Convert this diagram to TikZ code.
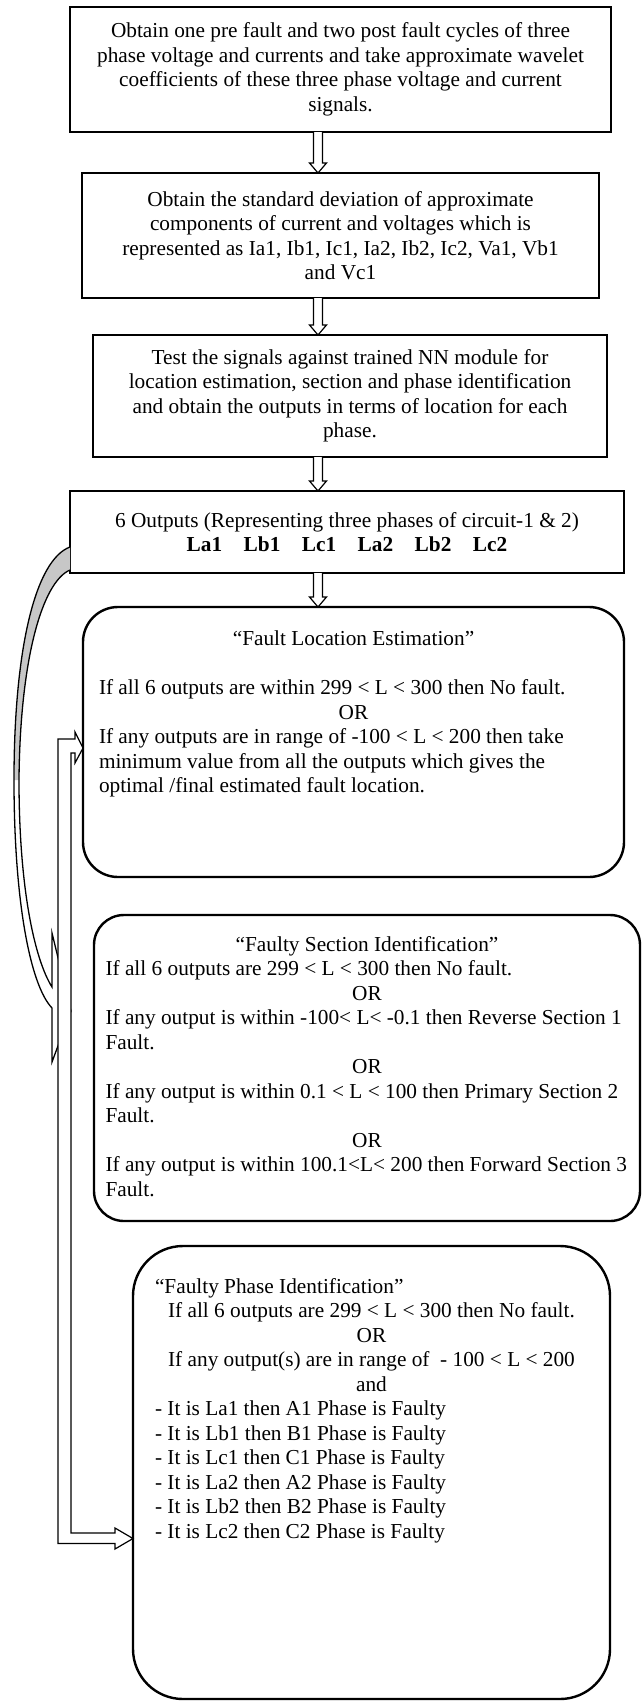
\documentclass[tikz,border=0pt]{standalone}
\usepackage{fontspec}
\setmainfont{Liberation Serif}
\usepackage{tikz}
\usetikzlibrary{calc,positioning}

\tikzset{
  stepbox/.style={draw, line width=2.2pt, align=center, inner sep=0pt, outer sep=0pt, anchor=north west},
  roundbox/.style={draw, line width=2.4pt, rounded corners=#1, inner sep=0pt, outer sep=0pt, anchor=north west},
  blockarrow/.style={draw, line width=1.2pt, fill=white, line join=miter},
  curvearrow/.style={draw, line width=1.3pt, line join=miter},
}
% hollow down arrow between two steps
\newcommand{\blockdown}[2]{%
  \draw[blockarrow] ($(#1.south -| axis)+(-4.5,0)$) -- ($(#2.north -| axis)+(-4.5,-10)$)
    -- ($(#2.north -| axis)+(-8.5,-10)$) -- (#2.north -| axis)
    -- ($(#2.north -| axis)+(8.5,-10)$) -- ($(#2.north -| axis)+(4.5,-10)$)
    -- ($(#1.south -| axis)+(4.5,0)$);
}

\begin{document}
\begin{tikzpicture}[x=1pt, y=-1pt, font=\fontsize{21.3}{24.5}\selectfont]
  \useasboundingbox (0,0) rectangle (642,1702);
  \coordinate (axis) at (318,0);

  % Steps
  \node[stepbox, minimum width=541pt, minimum height=125pt] (wave) at (70,7)
    {Obtain one pre fault and two post fault cycles of three\\
     phase voltage and currents and take approximate wavelet\\
     coefficients of these three phase voltage and current\\
     signals.};
  \node[stepbox, minimum width=517pt, minimum height=125pt] (stdev) at (82,173)
    {Obtain the standard deviation of approximate\\
     components of current and voltages which is\\
     represented as Ia1, Ib1, Ic1, Ia2, Ib2, Ic2, Va1, Vb1\\
     and Vc1};
  \node[stepbox, minimum width=514pt, minimum height=122pt] (test) at (93,335)
    {Test the signals against trained NN module for\\
     location estimation, section and phase identification\\
     and obtain the outputs in terms of location for each\\
     phase.};
  \node[stepbox, minimum width=554pt, minimum height=82pt] (outs) at (70,491)
    {6 Outputs (Representing three phases of circuit-1 \& 2)\\
     \textbf{La1\hspace{21.5pt}Lb1\hspace{21.5pt}Lc1\hspace{21.5pt}La2\hspace{21.5pt}Lb2\hspace{21.5pt}Lc2}};

  % Decisions
  \node[roundbox=35pt, minimum width=541pt, minimum height=270pt] (loc) at (83,607)
    {\parbox[c][222pt][t]{509pt}{\centering “Fault Location Estimation”\par
     \vspace{24.5pt}
     \raggedright If all 6 outputs are within 299 < L < 300 then No fault.\par
     \centering OR\par
     \raggedright If any outputs are in range of -100 < L < 200 then take\\
     minimum value from all the outputs which gives the\\
     optimal /final estimated fault location.\par}};
  \node[roundbox=30pt, minimum width=546pt, minimum height=306pt] (sec) at (94,915)
    {\parbox[c][264pt][t]{523pt}{\centering “Faulty Section Identification”\par
     \raggedright If all 6 outputs are 299 < L < 300 then No fault.\par
     \centering OR\par
     \raggedright \mbox{If any output is within -100< L< -0.1 then Reverse Section 1}\\
     Fault.\par
     \centering OR\par
     \raggedright \mbox{If any output is within 0.1 < L < 100 then Primary Section 2}\\
     Fault.\par
     \centering OR\par
     \raggedright \mbox{If any output is within 100.1<L< 200 then Forward Section 3}\\
     Fault.\par}};
  \node[roundbox=50pt, minimum width=477pt, minimum height=453pt] (phase) at (133,1246)
    {\parbox[c][389pt][t]{433pt}{\raggedright “Faulty Phase Identification”\par
     \centering If all 6 outputs are 299 < L < 300 then No fault.\par
     OR\par
     If any output(s) are in range of \ - 100 < L < 200\par
     and\par
     \raggedright - It is La1 then A1 Phase is Faulty\\
     - It is Lb1 then B1 Phase is Faulty\\
     - It is Lc1 then C1 Phase is Faulty\\
     - It is La2 then A2 Phase is Faulty\\
     - It is Lb2 then B2 Phase is Faulty\\
     - It is Lc2 then C2 Phase is Faulty\par}};

  % Down arrows
  \blockdown{wave}{stdev}
  \blockdown{stdev}{test}
  \blockdown{test}{outs}
  \blockdown{outs}{loc}

  % Curved arrow from the outputs
  \coordinate (cA) at ($(outs.south west)+(0,-26)$);
  \coordinate (cB) at ($(outs.south west)+(0,-3)$);
  \coordinate (ctip) at ($(sec.north west)+(-23,96)$);
  \fill[black!22] (cA) .. controls (35,560) and (14,650) .. (14,780)
    -- (19,780) .. controls (20,660) and (42,582) .. (cB) -- cycle;
  \draw[curvearrow] (cA) .. controls (35,560) and (14,650) .. (14,780)
    .. controls (14,900) and (30,985) .. ($(ctip)+(-19,-3)$)
    -- ($(ctip)+(-19,51)$) -- (ctip) -- ($(ctip)+(-19,-78)$) -- ($(ctip)+(-19,-24)$)
    .. controls (35,960) and (19,890) .. (19,780)
    .. controls (20,660) and (42,582) .. (cB);

  % Bent arrow feeding location and phase boxes
  \coordinate (ptipA) at ($(loc.west)+(0,6)$);
  \coordinate (ptipB) at ($(phase.west)+(0,66)$);
  \draw[blockarrow] (ptipA) -- ++(-8,-16) -- ++(0,7) -- ++(-17,0)
    |- ($(ptipB)+(-18,5)$) -- ++(0,5.5) -- (ptipB) -- ++(-18,-10.5) -- ++(0,5)
    -| ($(ptipA)+(-12,5)$) -- ++(4,0) -- ++(0,10) -- cycle;
\end{tikzpicture}
\end{document}
